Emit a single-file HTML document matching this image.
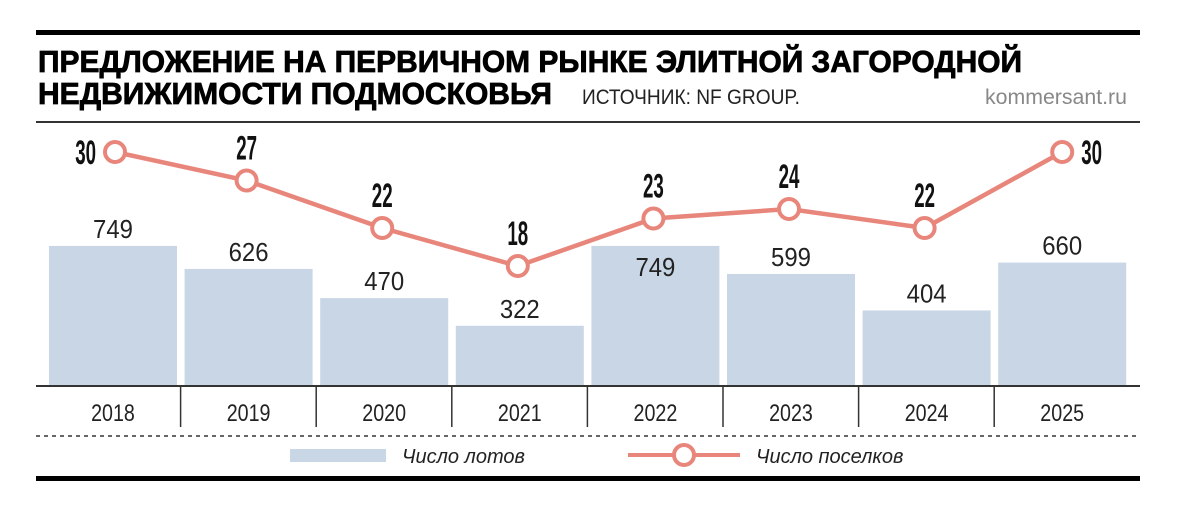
<!DOCTYPE html>
<html><head><meta charset="utf-8"><style>
html,body{margin:0;padding:0;background:#fff;}
svg{display:block;font-family:"Liberation Sans","DejaVu Sans",sans-serif;}
</style></head><body>
<svg width="1200" height="517" viewBox="0 0 1200 517">
<rect x="36" y="30" width="1104" height="5" fill="#000"/>
<text x="38" y="72" font-size="31" font-weight="bold" stroke="#000" stroke-width="0.8" textLength="984" lengthAdjust="spacingAndGlyphs">ПРЕДЛОЖЕНИЕ НА ПЕРВИЧНОМ РЫНКЕ ЭЛИТНОЙ ЗАГОРОДНОЙ</text>
<text x="38" y="104" font-size="31" font-weight="bold" stroke="#000" stroke-width="0.8" textLength="514" lengthAdjust="spacingAndGlyphs">НЕДВИЖИМОСТИ ПОДМОСКОВЬЯ</text>
<text x="582" y="104" font-size="21" textLength="218" lengthAdjust="spacingAndGlyphs" fill="#222">ИСТОЧНИК: NF GROUP.</text>
<text x="1127" y="104" font-size="21" text-anchor="end" fill="#888" textLength="142" lengthAdjust="spacingAndGlyphs">kommersant.ru</text>
<rect x="36" y="121" width="1104" height="2" fill="#333"/>
<g id="plot"></g>
<line x1="36" y1="436" x2="1140" y2="436" stroke="#333" stroke-width="1.5" stroke-dasharray="4,4"/>
<rect x="290" y="449" width="96" height="13" fill="#c8d6e5"/>
<text x="402" y="463" font-size="20" font-style="italic" fill="#222">Число лотов</text>
<line x1="628" y1="455" x2="740" y2="455" stroke="#e8867b" stroke-width="4"/>
<circle cx="684" cy="455" r="10" fill="#fff" stroke="#e8867b" stroke-width="4"/>
<text x="756" y="463" font-size="20" font-style="italic" fill="#222">Число поселков</text>
<rect x="36" y="476" width="1104" height="5" fill="#000"/>
</svg>
<script>
const years = ["2018","2019","2020","2021","2022","2023","2024","2025"];
const lots = [749,626,470,322,749,599,404,660];
const villages = [30,27,22,18,23,24,22,30];
const NS="http://www.w3.org/2000/svg";
const g=document.getElementById('plot');
const baseY=386;
const cx=i=>113+135.6*i;
const barY=v=>baseY-v*0.187;
const lineY=v=>152+(30-v)*9.5;
function mk(t,a){const e=document.createElementNS(NS,t);for(const k in a)e.setAttribute(k,a[k]);g.appendChild(e);return e;}
years.forEach((y,i)=>{
  const top=barY(lots[i]);
  const b=mk('rect',{x:cx(i)-64,y:top,width:128,height:baseY-top,fill:'#c8d6e5'});
  
  
  const inside = i===4;
  const t=mk('text',{x:cx(i),y:inside?top+30:top-8,'font-size':26,'text-anchor':'middle',fill:'#222',transform:`translate(${cx(i)},0) scale(0.92,1) translate(${-cx(i)},0)`});
  t.textContent=lots[i];
  
  
  const yl=mk('text',{x:cx(i),y:421,'font-size':24,'text-anchor':'middle',fill:'#222',transform:`translate(${cx(i)},0) scale(0.82,1) translate(${-cx(i)},0)`});
  yl.textContent=y;
  
  
  if(i>0){const d=mk('line',{x1:cx(i)-68,y1:baseY,x2:cx(i)-68,y2:427,stroke:'#333','stroke-width':1.5});
  
  }
});
const ax=mk('line',{x1:36,y1:baseY,x2:1140,y2:baseY,stroke:'#333','stroke-width':2});


const px=i=>cx(i)+(i===0?2:0)-(i>0&&i<7?2:0);
const pts=villages.map((v,i)=>px(i)+','+lineY(v)).join(' ');
const pl=mk('polyline',{points:pts,fill:'none',stroke:'#e8867b','stroke-width':4.5});


villages.forEach((v,i)=>{
  const x=px(i), y=lineY(v);
  const c=mk('circle',{cx:x,cy:y,r:10,fill:'#fff',stroke:'#e8867b','stroke-width':4});
  
  
  let lx=x, ly=y-21, anchor='middle';
  if(i===0){lx=x-19;ly=y+12;anchor='end';}
  if(i===years.length-1){lx=x+19;ly=y+12;anchor='start';}
  const t=mk('text',{x:lx,y:ly,'font-size':34,'font-weight':'bold','text-anchor':anchor,fill:'#111',transform:`translate(${lx},0) scale(0.55,1) translate(${-lx},0)`});
  t.textContent=v;
  
  
});
</script>
</body></html>
